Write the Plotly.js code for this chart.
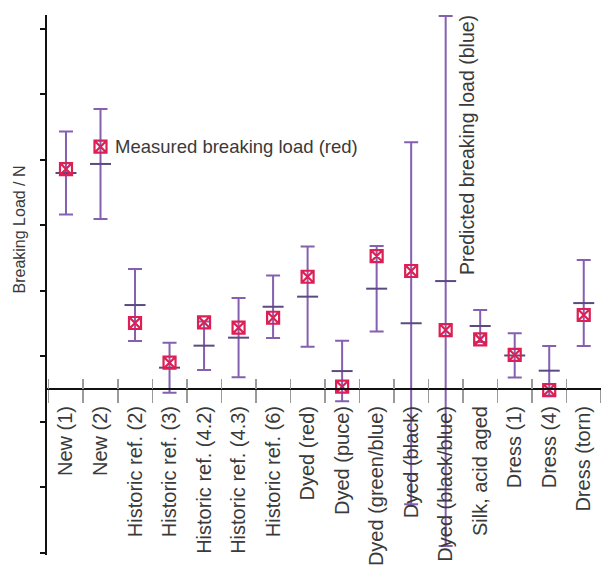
<!DOCTYPE html>
<html>
<head>
<meta charset="utf-8">
<script src="https://cdn.plot.ly/plotly-3.0.1.min.js"></script>
<style>html,body{margin:0;padding:0;background:#fff;}</style>
</head>
<body>
<div id="chart" style="width:601px;height:571px;"></div>
<script>
const categories = ["New (1)", "New (2)", "Historic ref. (2)", "Historic ref. (3)", "Historic ref. (4.2)",
  "Historic ref. (4.3)", "Historic ref. (6)", "Dyed (red)", "Dyed (puce)", "Dyed (green/blue)",
  "Dyed (black)", "Dyed (black/blue)", "Silk, acid aged", "Dress (1)", "Dress (4)", "Dress (torn)"];
const measured = [167.9, 185.0, 50.4, 20.1, 50.9, 46.8, 54.4, 85.7, 1.8, 101.5, 90.1, 45.0, 37.9, 26.0, -0.8, 56.5];
const predicted = [164.9, 171.8, 64.1, 16.3, 33.1, 39.2, 62.8, 70.5, 13.7, 76.6, 50.2, 82.4, 48.1, 25.6, 14.0, 65.6];
const predictedError = [31.7, 42.0, 27.5, 19.1, 18.5, 30.3, 23.8, 38.2, 23.1, 32.6, 138.2, 202.3, 12.2, 16.9, 18.9, 32.8];

const yRange = [-126.7, 285.5];
const zeroPos = (0 - yRange[0]) / (yRange[1] - yRange[0]);
const textColor = "#3a3a3a";
const fontFam = "Liberation Sans, Arial, sans-serif";

const traces = [
  {
    x: categories, y: predicted, type: "scatter", mode: "markers", xaxis: "x", yaxis: "y",
    name: "Predicted",
    marker: {symbol: "line-ew-open", size: 15, color: "#5b4a80", line: {width: 2, color: "#5b4a80"}},
    error_y: {type: "data", array: predictedError, visible: true, color: "#8560b0", thickness: 2, width: 7},
    hoverinfo: "x+y"
  },
  {
    x: categories, y: measured, type: "scatter", mode: "markers", xaxis: "x2", yaxis: "y",
    name: "Measured",
    marker: {symbol: "square-x-open", size: 12, color: "#dc1f55", line: {width: 2.2, color: "#dc1f55"}},
    hoverinfo: "x+y"
  }
];

const xCommon = {
  type: "category", categoryorder: "array", categoryarray: categories,
  range: [-0.55, 15.5], anchor: "free", position: zeroPos,
  showgrid: false, zeroline: false, tickson: "boundaries", fixedrange: true
};

const layout = {
  width: 601, height: 571,
  margin: {l: 47, r: 0, t: 15, b: 16},
  paper_bgcolor: "#fff", plot_bgcolor: "#fff",
  showlegend: false,
  font: {family: fontFam, color: textColor},
  xaxis: Object.assign({}, xCommon, {
    showline: true, linecolor: "#111", linewidth: 2,
    ticks: "outside", ticklen: 13, tickwidth: 1.5, tickcolor: "#9a9a9a",
    tickangle: -90, tickfont: {size: 20, color: textColor, family: fontFam},
    ticklabelstandoff: 8,
    automargin: false
  }),
  xaxis2: Object.assign({}, xCommon, {
    overlaying: "x", side: "bottom", showline: false,
    ticks: "inside", ticklen: 10, tickwidth: 1.5, tickcolor: "#9a9a9a",
    showticklabels: false
  }),
  yaxis: {
    range: yRange, tick0: 25, dtick: 50, ticks: "outside", ticklen: 5, tickwidth: 2, tickcolor: "#111",
    showticklabels: false, showline: true, linecolor: "#111", linewidth: 2,
    showgrid: false, zeroline: false, automargin: false, fixedrange: true
  },
  annotations: [
    {text: "Breaking Load / N", xref: "paper", yref: "paper", x: -0.0505, y: 0.6028,
     xanchor: "center", yanchor: "middle", textangle: -90, showarrow: false,
     font: {size: 16, color: textColor, family: fontFam}},
    {text: "Measured breaking load (red)", xref: "paper", yref: "paper", x: 0.119, y: 0.757,
     xanchor: "left", yanchor: "middle", showarrow: false, font: {size: 18.5, color: textColor, family: fontFam}},
    {text: "Predicted breaking load (blue)", xref: "paper", yref: "paper", x: 0.758, y: 0.759,
     xanchor: "center", yanchor: "middle", textangle: -90, showarrow: false,
     font: {size: 19.5, color: textColor, family: fontFam}}
  ]
};

Plotly.newPlot("chart", traces, layout, {displayModeBar: false, staticPlot: true});
</script>
</body>
</html>
